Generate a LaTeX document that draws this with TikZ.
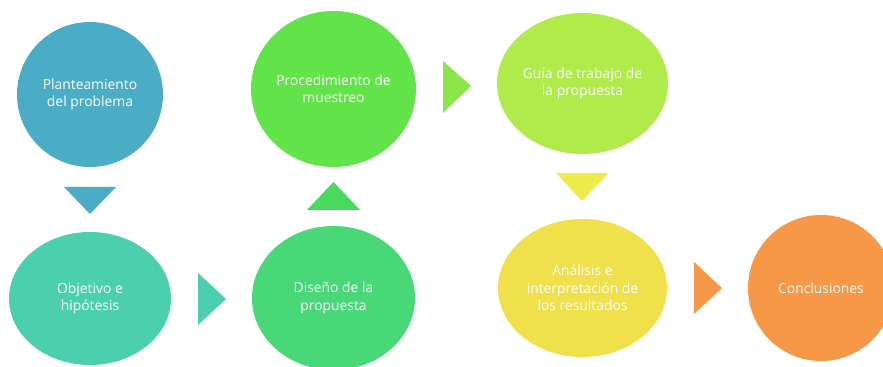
\documentclass[tikz,border=0pt]{standalone}
\usepackage{fontspec}
\setmainfont{Open Sans}
\usetikzlibrary{shapes.geometric}
\definecolor{cPlan}{HTML}{4BACC6}
\definecolor{cObj}{HTML}{4BCFAF}
\definecolor{cDis}{HTML}{48D877}
\definecolor{cDisTri}{HTML}{48DA5C}
\definecolor{cProc}{HTML}{62E34A}
\definecolor{cProcTri}{HTML}{8CE64A}
\definecolor{cGuia}{HTML}{B0EA4B}
\definecolor{cGuiaTri}{HTML}{EDEC4A}
\definecolor{cAnal}{HTML}{EFE04C}
\definecolor{cConcl}{HTML}{F79848}
\tikzset{
  bubble/.style={ellipse, inner sep=0pt, align=center, text=white,
    font=\fontsize{10.4}{13.2}\selectfont}
}
\begin{document}
\begin{tikzpicture}[x=0.75pt,y=-0.75pt]
	\useasboundingbox (0,0) rectangle (883,367);
	\begin{scope}
	\clip (0,0) rectangle (883,367);
	%circles
	\node[bubble, fill=cPlan, minimum width=109.5pt, minimum height=108.75pt] (plan) at (90,94.5) {Planteamiento\\del problema};
	\node[bubble, fill=cObj, minimum width=121.5pt, minimum height=99.75pt] (obj) at (90,298.5) {Objetivo e\\hipótesis};
	\node[bubble, fill=cDis, minimum width=122.25pt, minimum height=108pt] (dis) at (333.5,298) {Diseño de la\\propuesta};
	\node[bubble, fill=cProc, minimum width=123.75pt, minimum height=117pt] (proc) at (333.5,89) {Procedimiento de\\muestreo};
	\node[bubble, fill=cGuia, minimum width=128.25pt, minimum height=105.75pt] (guia) at (582.5,83.5) {Guía de trabajo de\\la propuesta};
	\node[bubble, fill=cAnal, minimum width=126.75pt, minimum height=103.5pt] (anal) at (582.5,288) {Análisis e\\interpretación de\\los resultados};
	\node[bubble, fill=cConcl, minimum width=109.5pt, minimum height=109.5pt] (concl) at (821,288) {Conclusiones};
	\end{scope}
	%arrows
	\fill[cPlan] (64,187) -- (116,187) -- (90,214) -- cycle;
	\fill[cObj] (198,273) -- (198,325) -- (226,299) -- cycle;
	\fill[cDisTri] (307,210) -- (360,210) -- (333.5,182) -- cycle;
	\fill[cProcTri] (443,61) -- (443,113) -- (471,86) -- cycle;
	\fill[cGuiaTri] (556,173) -- (608,173) -- (582,201) -- cycle;
	\fill[cConcl] (694,262) -- (694,314) -- (722,288) -- cycle;
\end{tikzpicture}
\end{document}
